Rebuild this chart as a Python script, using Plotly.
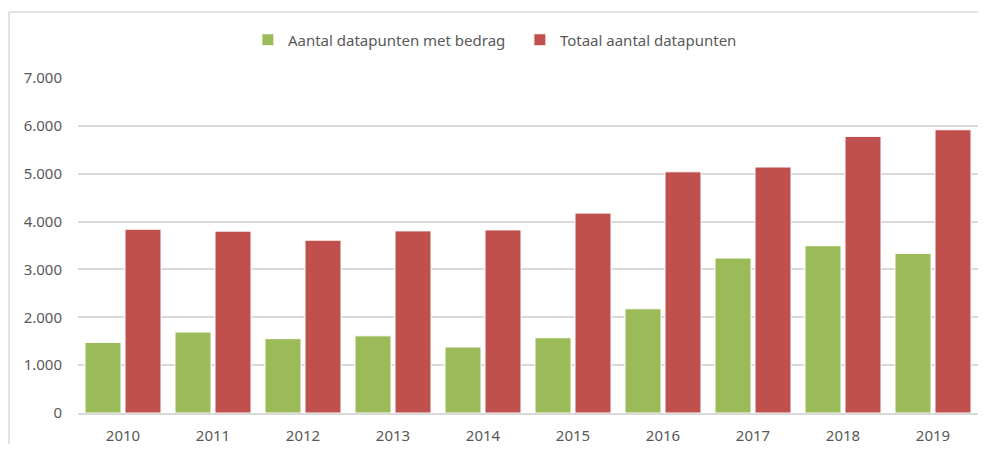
import plotly.graph_objects as go

years = ["2010", "2011", "2012", "2013", "2014", "2015", "2016", "2017", "2018", "2019"]
met_bedrag = [1475, 1692, 1553, 1612, 1379, 1573, 2179, 3238, 3495, 3335]
totaal = [3841, 3800, 3611, 3805, 3826, 4177, 5040, 5140, 5780, 5919]
y_ticks = [0, 1000, 2000, 3000, 4000, 5000, 6000, 7000]

# page body has an 8px margin; figure sized to fit inside the window without scrolling
W, H = 970, 436
L, R, T, B = 70, 0, 70, 31
font = "Noto Sans"
grey = "#595959"

fig = go.Figure()
fig.add_trace(go.Bar(x=years, y=met_bedrag, name="Aantal datapunten met bedrag",
                     marker=dict(color="#9BBB59", line=dict(color="white", width=1))))
fig.add_trace(go.Bar(x=years, y=totaal, name="Totaal aantal datapunten",
                     marker=dict(color="#C0504D", line=dict(color="white", width=1))))

pw = W - L - R
ph = H - T - B
# chart frame: top and left edges only visible in the reference
fig.add_shape(type="line", xref="paper", yref="paper",
              x0=(1 - L) / pw, x1=(W + 60 - L) / pw,
              y0=1 + (T - 4) / ph, y1=1 + (T - 4) / ph,
              line=dict(color="#d9d9d9", width=1.5), layer="below")
fig.add_shape(type="line", xref="paper", yref="paper",
              x0=(1 - L) / pw, x1=(1 - L) / pw,
              y0=-(H + 60 - (H - B)) / ph, y1=1 + (T - 4) / ph,
              line=dict(color="#d9d9d9", width=1.5), layer="below")

fig.update_layout(
    width=W, height=H,
    margin=dict(l=L, r=R, t=T, b=B, pad=0),
    paper_bgcolor="white", plot_bgcolor="white",
    separators=",.",
    barmode="group", bargap=0.111, bargroupgap=0.1,
    font=dict(family=font, size=15, color=grey),
    legend=dict(orientation="h", x=0.491, xanchor="center", y=1 + (T - 32) / ph, yanchor="middle",
                font=dict(size=15, color=grey), entrywidth=227, entrywidthmode="pixels",
                itemwidth=30, bgcolor="rgba(0,0,0,0)"),
    showlegend=True,
)
fig.update_xaxes(showgrid=False, showline=True, linecolor="#d9d9d9", linewidth=1.5,
                 ticks="", tickfont=dict(size=15, color=grey), ticklabelstandoff=8)
fig.update_yaxes(range=[0, 7000], tickvals=y_ticks, tickformat=",d", showgrid=True,
                 gridcolor="#d9d9d9", gridwidth=1.5, zeroline=False, showline=False,
                 ticks="", tickfont=dict(size=15, color=grey), ticklabelstandoff=15)

fig.write_html("out.html")
